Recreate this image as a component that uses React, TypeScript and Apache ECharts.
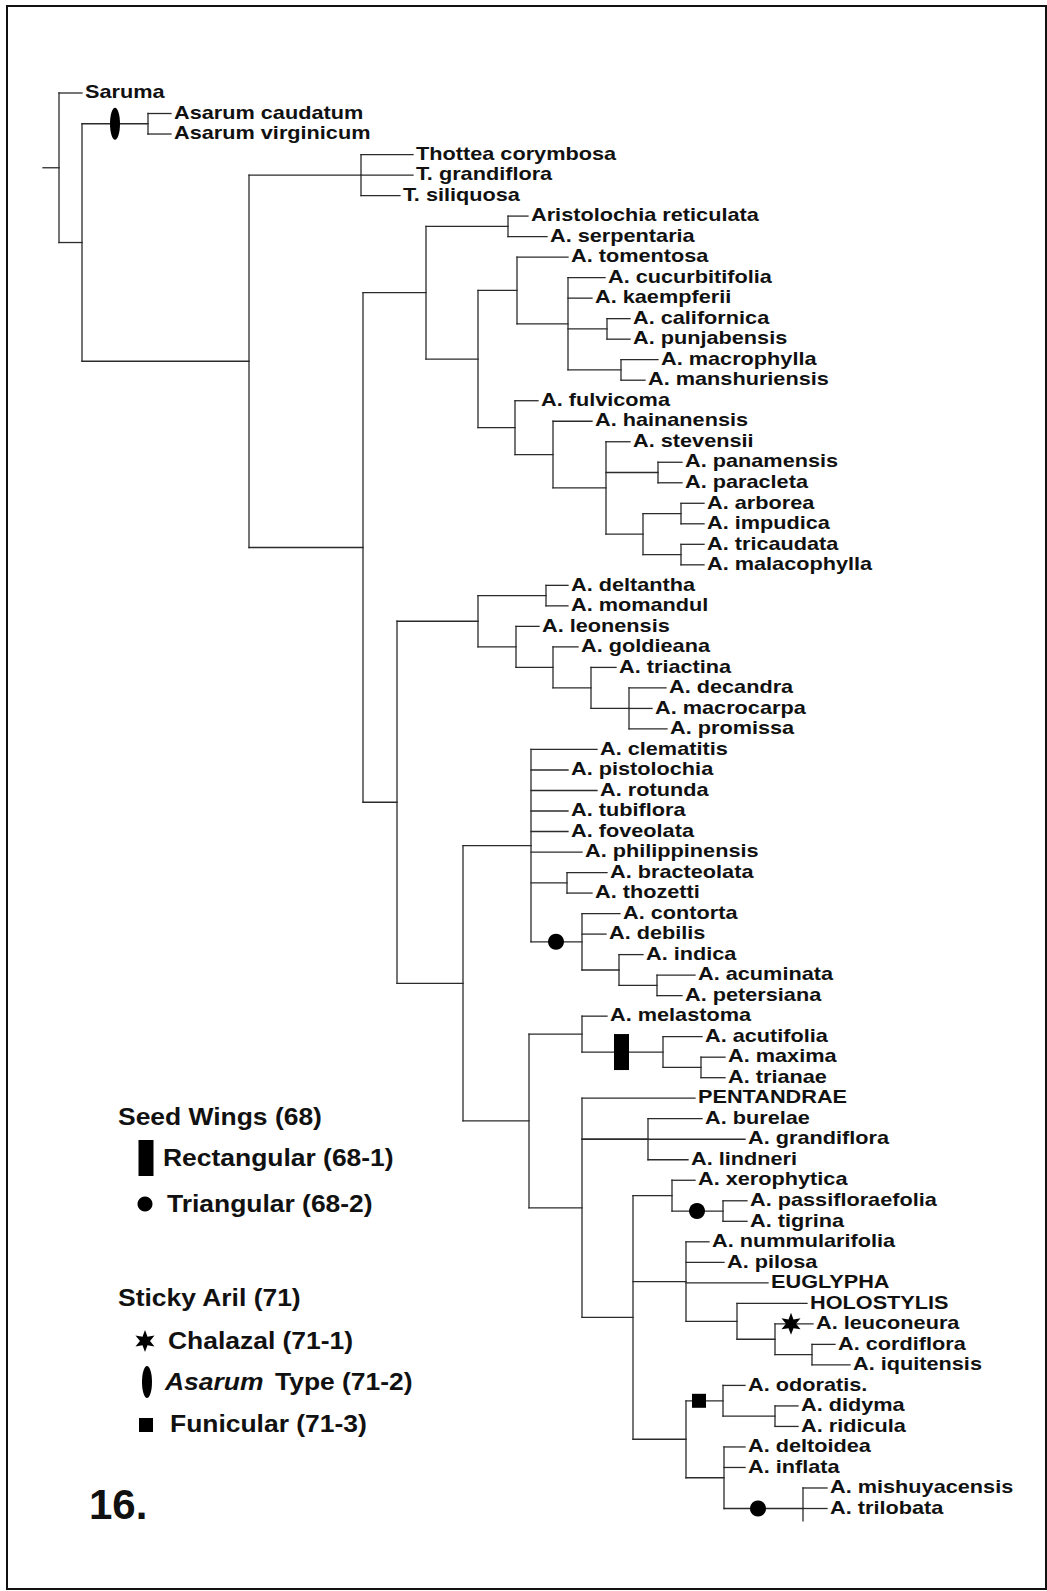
import React, { useEffect, useRef } from 'react';
import * as echarts from 'echarts';

// ---------------- DATA ----------------
// Terminal taxa, top to bottom (row index = position in this list)
const leafNames: string[] = [
  'Saruma', 'Asarum caudatum', 'Asarum virginicum',
  'Thottea corymbosa', 'T. grandiflora', 'T. siliquosa',
  'Aristolochia reticulata', 'A. serpentaria', 'A. tomentosa', 'A. cucurbitifolia',
  'A. kaempferii', 'A. californica', 'A. punjabensis', 'A. macrophylla', 'A. manshuriensis',
  'A. fulvicoma', 'A. hainanensis', 'A. stevensii', 'A. panamensis', 'A. paracleta',
  'A. arborea', 'A. impudica', 'A. tricaudata', 'A. malacophylla',
  'A. deltantha', 'A. momandul', 'A. leonensis', 'A. goldieana', 'A. triactina',
  'A. decandra', 'A. macrocarpa', 'A. promissa',
  'A. clematitis', 'A. pistolochia', 'A. rotunda', 'A. tubiflora', 'A. foveolata',
  'A. philippinensis', 'A. bracteolata', 'A. thozetti', 'A. contorta', 'A. debilis',
  'A. indica', 'A. acuminata', 'A. petersiana',
  'A. melastoma', 'A. acutifolia', 'A. maxima', 'A. trianae',
  'PENTANDRAE', 'A. burelae', 'A. grandiflora', 'A. lindneri',
  'A. xerophytica', 'A. passifloraefolia', 'A. tigrina',
  'A. nummularifolia', 'A. pilosa', 'EUGLYPHA', 'HOLOSTYLIS',
  'A. leuconeura', 'A. cordiflora', 'A. iquitensis',
  'A. odoratis.', 'A. didyma', 'A. ridicula',
  'A. deltoidea', 'A. inflata', 'A. mishuyacensis', 'A. trilobata',
];

// Branch tip position of each terminal (same order)
const leafTipX: number[] = [
  82, 171, 171,
  413, 413, 400,
  528, 547, 568, 605,
  592, 630, 630, 658, 645,
  538, 592, 630, 682, 682,
  704, 704, 704, 704,
  568, 568, 539, 578, 616,
  666, 652, 667,
  597, 568, 597, 568, 568,
  582, 607, 592, 620, 606,
  643, 695, 682,
  607, 702, 725, 725,
  695, 702, 745, 688,
  695, 747, 747,
  709, 724, 768, 807,
  813, 835, 850,
  745, 798, 798,
  745, 745, 827, 827,
];

// Internal nodes: position of the node (vertical bar)
const cladeX: Record<string, number> = {
  root: 59, n2: 82, asarum: 148, n3: 249, thottea: 361, n4: 363,
  A: 426, retser: 508, B: 478, C: 517, D: 568, E: 607, F: 621,
  G: 515, H: 553, I: 606, J: 658, K: 643, L: 681, M: 681,
  n5: 397, N: 478, O: 546, P: 516, Q: 553, R: 591, S: 629,
  T: 463, U: 531, V: 567, W: 582, X: 619, Y: 657,
  Z: 529, AA: 582, AB: 663, AC: 701, AD: 582, AE: 648,
  AF: 633, AH: 672, AK: 723, AI: 686, AL: 737, AM: 775, AN: 812,
  AO: 686, AP: 723, AR: 775, AQ: 724, AS: 803,
};

// Internal nodes: children (numbers = terminal rows, strings = nodes)
const cladeChildren: Record<string, (number | string)[]> = {
  root: [0, 'n2'], n2: ['asarum', 'n3'], asarum: [1, 2], n3: ['thottea', 'n4'],
  thottea: [3, 4, 5], n4: ['A', 'n5'],
  A: ['retser', 'B'], retser: [6, 7], B: ['C', 'G'], C: [8, 'D'],
  D: [9, 10, 'E', 'F'], E: [11, 12], F: [13, 14],
  G: [15, 'H'], H: [16, 'I'], I: [17, 'J', 'K'], J: [18, 19], K: ['L', 'M'],
  L: [20, 21], M: [22, 23],
  n5: ['N', 'T'], N: ['O', 'P'], O: [24, 25], P: [26, 'Q'], Q: [27, 'R'],
  R: [28, 'S'], S: [29, 30, 31],
  T: ['U', 'Z'], U: [32, 33, 34, 35, 36, 37, 'V', 'W'], V: [38, 39],
  W: [40, 41, 'X'], X: [42, 'Y'], Y: [43, 44],
  Z: ['AA', 'AD'], AA: [45, 'AB'], AB: [46, 'AC'], AC: [47, 48],
  AD: [49, 51, 'AE', 'AF'], AE: [50, 52],
  AF: ['AH', 'AI', 'AO'], AH: [53, 'AK'], AK: [54, 55],
  AI: [56, 57, 58, 'AL'], AL: [59, 'AM'], AM: [60, 'AN'], AN: [61, 62],
  AO: ['AP', 'AQ'], AP: [63, 'AR'], AR: [64, 65],
  AQ: [66, 67, 'AS'], AS: [68, 69],
};

const rootStubX = 43;
const attachAtLastChild: string[] = ['AS'];
const cladeTail: Record<string, number> = { AS: 0.6 };

// Character-state markers on branches
const markerTargets: (number | string)[] = ['asarum', 'W', 'AB', 'AK', 60, 'AP', 'AS'];
const markerX: number[] = [115, 556, 621.5, 697, 791, 699, 758];
const markerKinds: string[] = ['ellipse', 'circle', 'rect', 'circle', 'star', 'square', 'circle'];

// Legend
const legendTitles: string[] = ['Seed Wings (68)', 'Sticky Aril (71)'];
const legendItems: string[] = ['Rectangular (68-1)', 'Triangular (68-2)', 'Chalazal (71-1)', 'Type (71-2)', 'Funicular (71-3)'];
const figureNumber = '16.';

// ---------------- BUILD ----------------
const FONT = '"Liberation Sans", Arial, Helvetica, sans-serif';
const LINE = '#2b2b2b';
const INK = '#111';

function buildTree() {
  const nodeY: Record<string, number> = {};
  const yOf = (c: number | string): number => {
    if (typeof c === 'number') return c;
    if (c in nodeY) return nodeY[c];
    const ys = cladeChildren[c].map(yOf);
    const y = attachAtLastChild.includes(c)
      ? ys[ys.length - 1]
      : (Math.min(...ys) + Math.max(...ys)) / 2;
    nodeY[c] = y;
    return y;
  };
  const xOf = (c: number | string): number => (typeof c === 'number' ? leafTipX[c] : cladeX[c]);
  const segs: number[][] = [];
  const ry = yOf('root');
  segs.push([rootStubX, ry, cladeX.root, ry]);
  Object.keys(cladeChildren).forEach((id) => {
    const x = cladeX[id];
    const ys = cladeChildren[id].map(yOf);
    segs.push([x, Math.min(...ys), x, Math.max(...ys) + (cladeTail[id] || 0)]);
    cladeChildren[id].forEach((c) => {
      const y = yOf(c);
      segs.push([x, y, xOf(c), y]);
    });
  });
  const markers = markerTargets.map((t, i) => [markerX[i], yOf(t), i]);
  return { segs, markers };
}

function starPoints(cx: number, cy: number, ro: number, ri: number, n: number) {
  const pts: number[][] = [];
  for (let k = 0; k < n * 2; k++) {
    const a = -Math.PI / 2 + (k * Math.PI) / n;
    const r = k % 2 === 0 ? ro : ri;
    pts.push([cx + r * Math.cos(a), cy + r * Math.sin(a)]);
  }
  return pts;
}

function markerShape(kind: string, cx: number, cy: number): any {
  const fill = { fill: '#000' };
  switch (kind) {
    case 'ellipse':
      return { type: 'ellipse', shape: { cx, cy, rx: 5, ry: 16 }, style: fill };
    case 'circle':
      return { type: 'circle', shape: { cx, cy, r: 8 }, style: fill };
    case 'rect':
      return { type: 'rect', shape: { x: cx - 7.5, y: cy - 18, width: 15, height: 36 }, style: fill };
    case 'square':
      return { type: 'rect', shape: { x: cx - 7, y: cy - 7, width: 14, height: 14 }, style: fill };
    case 'star':
      return { type: 'polygon', shape: { points: starPoints(cx, cy, 11, 5, 6) }, style: fill };
    default:
      return null;
  }
}

function legendText(text: string, x: number, y: number, italic = false): any {
  return {
    type: 'text', x, y, scaleX: 1.15,
    style: {
      text, fontSize: 23, fontWeight: 'bold', fontStyle: italic ? 'italic' : 'normal',
      fontFamily: FONT, fill: INK, verticalAlign: 'middle', align: 'left',
    },
  };
}

export default function App() {
  const ref = useRef<HTMLDivElement>(null);
  useEffect(() => {
    if (!ref.current) return;
    const chart = echarts.init(ref.current, null, { renderer: 'svg' });
    const { segs, markers } = buildTree();
    const labelData = leafNames.map((_, i) => [leafTipX[i], i, i]);

    const legendGraphics: any[] = [
      legendText(legendTitles[0], 118, 1117),
      markerShape('rect', 146, 1158),
      legendText(legendItems[0], 163, 1158),
      { ...markerShape('circle', 145, 1204), shape: { cx: 145, cy: 1204, r: 7.5 } },
      legendText(legendItems[1], 167, 1204),
      legendText(legendTitles[1], 118, 1298),
      markerShape('star', 145, 1341),
      legendText(legendItems[2], 168, 1341),
      markerShape('ellipse', 147, 1382),
      legendText('Asarum', 165, 1382, true),
      legendText(legendItems[3], 275, 1382),
      markerShape('square', 146, 1425),
      legendText(legendItems[4], 170, 1424),
      {
        type: 'text', x: 89, y: 1504,
        style: { text: figureNumber, fontSize: 42, fontWeight: 'bold', fontFamily: FONT, fill: INK, verticalAlign: 'middle' },
      },
      {
        type: 'rect', shape: { x: 7, y: 6, width: 1039, height: 1583 },
        style: { fill: 'none', stroke: '#111', lineWidth: 2 }, z: 10,
      },
    ];

    chart.setOption({
      animation: false,
      backgroundColor: '#fff',
      grid: { left: 0, right: 0, top: 93, bottom: 82.5 },
      xAxis: { type: 'value', min: 0, max: 1047, show: false },
      yAxis: { type: 'value', min: 0, max: 69, inverse: true, show: false },
      graphic: legendGraphics,
      series: [
        {
          type: 'custom',
          clip: false,
          data: segs,
          encode: { x: [0, 2], y: [1, 3] },
          renderItem: (_p: any, api: any) => {
            const a = api.coord([api.value(0), api.value(1)]);
            const b = api.coord([api.value(2), api.value(3)]);
            return {
              type: 'line',
              shape: { x1: a[0], y1: a[1], x2: b[0], y2: b[1] },
              style: { stroke: LINE, lineWidth: 1.3, lineCap: 'square' },
            };
          },
        },
        {
          type: 'custom',
          clip: false,
          data: labelData,
          encode: { x: 0, y: 1 },
          renderItem: (_p: any, api: any) => {
            const p = api.coord([api.value(0), api.value(1)]);
            return {
              type: 'text',
              x: p[0] + 3,
              y: p[1] - 1,
              scaleX: 1.24,
              style: {
                text: leafNames[api.value(2)],
                fontSize: 17.5, fontWeight: 'bold', fontFamily: FONT,
                fill: INK, verticalAlign: 'middle', align: 'left',
              },
            };
          },
        },
        {
          type: 'custom',
          clip: false,
          z: 5,
          data: markers,
          encode: { x: 0, y: 1 },
          renderItem: (_p: any, api: any) => {
            const p = api.coord([api.value(0), api.value(1)]);
            return markerShape(markerKinds[api.value(2)], p[0], p[1]);
          },
        },
      ],
    });
    return () => chart.dispose();
  }, []);
  return (
    <div
      ref={ref}
      style={{ position: 'absolute', left: 0, top: 0, width: 1047, height: 1591, background: '#fff' }}
    />
  );
}
